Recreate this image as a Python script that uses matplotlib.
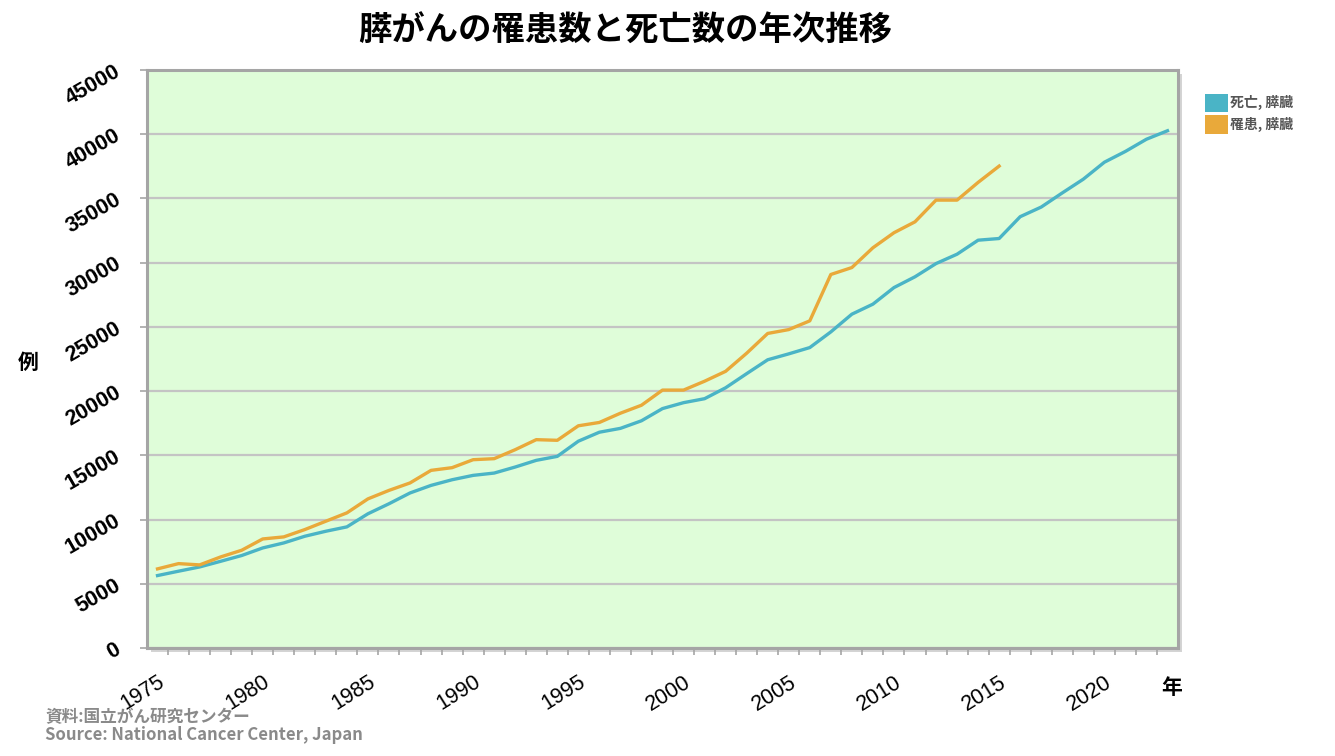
import matplotlib
matplotlib.use("Agg")
import matplotlib.pyplot as plt
from matplotlib.patches import Rectangle, Patch
from matplotlib.ticker import FixedLocator
import numpy as np

plt.rcParams['font.family'] = ['Noto Sans CJK JP', 'DejaVu Sans']

# ---- data ----
death_years = list(range(1975, 2024))
death_values = [5640, 5980, 6310, 6750, 7200, 7790, 8180, 8700, 9090, 9430,
                10450, 11230, 12070, 12660, 13100, 13440, 13620, 14090, 14610, 14920,
                16100, 16800, 17100, 17690, 18640, 19100, 19410, 20260, 21360, 22440,
                22900, 23390, 24610, 25990, 26770, 28060, 28900, 29930, 30660, 31750,
                31880, 33580, 34330, 35430, 36500, 37820, 38660, 39610, 40270]
incidence_years = list(range(1975, 2016))
incidence_values = [6160, 6570, 6470, 7090, 7610, 8490, 8650, 9220, 9870, 10520,
                    11610, 12270, 12850, 13830, 14040, 14660, 14740, 15440, 16220, 16170,
                    17300, 17560, 18280, 18900, 20080, 20080, 20770, 21540, 22950, 24490,
                    24790, 25470, 29080, 29620, 31160, 32330, 33180, 34870, 34870, 36250,
                    37520]
x_tick_labels = [1975, 1980, 1985, 1990, 1995, 2000, 2005, 2010, 2015, 2020]
y_ticks = [0, 5000, 10000, 15000, 20000, 25000, 30000, 35000, 40000, 45000]
series_names = ['死亡, 膵臓', '罹患, 膵臓']
title = '膵がんの罹患数と死亡数の年次推移'

teal = '#4ab4c6'
orange = '#e9a93a'

W, H = 1335, 756
fig = plt.figure(figsize=(W / 100, H / 100), dpi=100)
fig.patch.set_facecolor('white')

l, r, b, t = 147 / W, 1178 / W, (H - 648) / H, (H - 70) / H
ax = fig.add_axes([l, b, r - l, t - b])

# drop shadow behind plot area
shadow = Rectangle((l + 4 / W, b - 4 / H), r - l, t - b, transform=fig.transFigure,
                   facecolor='#d4d4d4', edgecolor='none', zorder=-5)
fig.patches.append(shadow)

ax.set_facecolor('#dffdd9')
ax.set_xlim(1974.5, 2023.5)
ax.set_ylim(0, 45000)

ax.yaxis.set_major_locator(FixedLocator(y_ticks))
ax.grid(axis='y', color='#c4c4c4', linewidth=1.6, zorder=0)
ax.set_axisbelow(True)

ax.plot(death_years, death_values, color=teal, linewidth=2.4, label=series_names[0],
        solid_joinstyle='round', zorder=3)
ax.plot(incidence_years, incidence_values, color=orange, linewidth=2.4,
        label=series_names[1], solid_joinstyle='round', zorder=3)

for s in ax.spines.values():
    s.set_color('#a5a5a5')
    s.set_linewidth(2.2)

# x axis: category boundaries as minor ticks, labels every 5 years
ax.xaxis.set_major_locator(FixedLocator(x_tick_labels))
ax.xaxis.set_minor_locator(FixedLocator(np.arange(1975.5, 2023.5, 1.0)))
ax.tick_params(axis='x', which='major', length=0, pad=17)
ax.tick_params(axis='x', which='minor', length=5, width=1.2, color='#a5a5a5', direction='out')
ax.set_xticklabels([str(v) for v in x_tick_labels])
for lab in ax.get_xticklabels():
    lab.set_rotation(32)
    lab.set_ha('right')
    lab.set_va('top')
    lab.set_rotation_mode('anchor')
    lab.set_fontfamily(['Liberation Sans'])
    lab.set_fontsize(15.5)

ax.tick_params(axis='y', which='major', length=5, width=1.2, color='#a5a5a5',
               direction='out', pad=15)
ax.set_yticklabels([str(v) for v in y_ticks])
for lab in ax.get_yticklabels():
    lab.set_rotation(30)
    lab.set_ha('right')
    lab.set_va('center')
    lab.set_rotation_mode('anchor')
    lab.set_fontfamily(['Liberation Sans'])
    lab.set_fontweight('bold')
    lab.set_fontsize(15.5)

# titles and axis labels
fig.text(625 / W, 1 - 31 / H, title, ha='center', va='center', fontsize=24,
         fontweight='bold', color='black')
fig.text(28 / W, 1 - 362 / H, '例', ha='center', va='center', fontsize=15,
         fontweight='bold', color='black')
fig.text(1172 / W, 1 - 688 / H, '年', ha='center', va='center', fontsize=15,
         fontweight='bold', color='black')

# legend
handles = [Patch(facecolor=teal, edgecolor='none'), Patch(facecolor=orange, edgecolor='none')]
leg = fig.legend(handles, series_names, loc='upper left',
                 bbox_to_anchor=(1199 / W, 1 - 88 / H), frameon=False,
                 fontsize=10, handlelength=1.7, handleheight=1.7,
                 handletextpad=0.1, labelspacing=0.2, borderaxespad=0)
for txt in leg.get_texts():
    txt.set_color('#555555')
    txt.set_fontweight('bold')

# source
fig.text(45 / W, 1 - 717 / H, '資料:国立がん研究センター', ha='left', va='center',
         fontsize=12, fontweight='bold', color='#8a8a8a')
fig.text(45 / W, 1 - 735 / H, 'Source: National Cancer Center, Japan', ha='left',
         va='center', fontsize=12, fontweight='bold', color='#8a8a8a')

fig.savefig('out.png', dpi=100, facecolor='white')
